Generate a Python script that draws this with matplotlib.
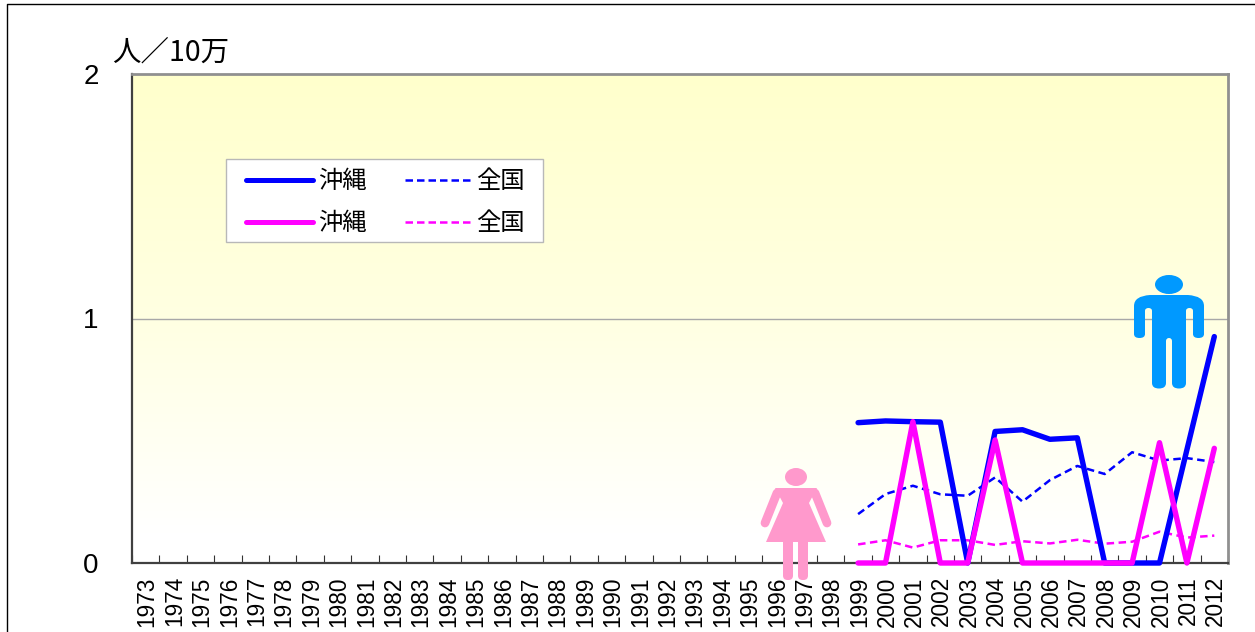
"""Rate per 100,000 chart: Okinawa vs national, men and women."""
import matplotlib
matplotlib.use("Agg")
import matplotlib.pyplot as plt
import numpy as np
from matplotlib.colors import LinearSegmentedColormap
from matplotlib.patches import Ellipse, FancyBboxPatch, PathPatch, Polygon, Rectangle
from matplotlib.path import Path
from matplotlib.transforms import Affine2D, ScaledTranslation

plt.rcParams["font.family"] = ["Noto Sans CJK JP", "DejaVu Sans"]

W, H = 1255, 632

years = [str(y) for y in range(1973, 2013)]
recent_years = [str(y) for y in range(1999, 2013)]

okinawa_men = [0.574, 0.581, 0.578, 0.576, 0, 0.538, 0.545, 0.506, 0.512, 0, 0, 0, 0.463, 0.926]
japan_men = [0.200, 0.282, 0.316, 0.281, 0.275, 0.350, 0.251, 0.339, 0.397, 0.364, 0.453, 0.419, 0.429, 0.413]
okinawa_women = [0, 0, 0.578, 0, 0, 0.503, 0, 0, 0, 0, 0, 0.492, 0, 0.469]
japan_women = [0.076, 0.093, 0.063, 0.093, 0.093, 0.074, 0.089, 0.080, 0.095, 0.079, 0.087, 0.128, 0.104, 0.112]

yticks = [0, 1, 2]
unit_label = "人／10万"
series_labels = ["沖縄", "全国"]

BLUE = "#0000ff"
MAGENTA = "#ff00ff"
MAN = "#0099ff"
WOMAN = "#ff99cc"

fig = plt.figure(figsize=(W / 100, H / 100), dpi=100)
ax = fig.add_axes([132 / W, 1 - 563 / H, (1228 - 132) / W, (563 - 74) / H])
ax.set_xlim(-0.5, 39.5)
ax.set_ylim(0, 2)

# page frame, cut off by the picture on the bottom and right
fig.add_artist(plt.Line2D([6.7 / W, 6.7 / W, 1], [0, 1 - 3.9 / H, 1 - 3.9 / H], color="black", lw=1))

# yellow to white gradient background
cmap = LinearSegmentedColormap.from_list("bg", [(0, "#ffffff"), (0.06, "#ffffff"), (0.5, "#ffffe2"), (1, "#ffffcc")])
grad = np.linspace(0, 1, 256).reshape(-1, 1)
ax.imshow(grad, cmap=cmap, origin="lower", aspect="auto", extent=(-0.5, 39.5, 0, 2), zorder=0)

ax.axhline(1, color="#a8a8a8", lw=1, zorder=1)

x_recent = [years.index(y) for y in recent_years]
dash_style = dict(lw=1.8, ls=(0, (3, 1.8)), zorder=3, clip_on=False)
solid_style = dict(lw=3.9, clip_on=False, solid_joinstyle="round", solid_capstyle="round")
ax.plot(x_recent, japan_men, color=BLUE, **dash_style)
ax.plot(x_recent, japan_women, color=MAGENTA, **dash_style)
ax.plot(x_recent, okinawa_men, color=BLUE, zorder=4, **solid_style)
ax.plot(x_recent, okinawa_women, color=MAGENTA, zorder=5, **solid_style)

ax.set_yticks(yticks)
ax.set_yticklabels([str(t) for t in yticks], fontsize=20, family="Liberation Sans")
ax.tick_params(axis="y", length=0, pad=24)
ax.set_xticks(np.arange(-0.5, 40, 1), minor=True)
ax.set_xticks(range(len(years)))
ax.set_xticklabels(years, rotation=90, fontsize=16.3, family="Liberation Sans")
ax.tick_params(axis="x", which="major", length=0, pad=9.5)
ax.tick_params(axis="x", which="minor", length=5.5, direction="in", width=0.8, color="#333333")
nudge = ScaledTranslation(1.5 / 100, 0, fig.dpi_scale_trans)
for label in ax.get_xticklabels():
    label.set_transform(label.get_transform() + nudge)
for side in ["top", "right"]:
    ax.spines[side].set_color("#909090")
    ax.spines[side].set_linewidth(2)
for side in ["left", "bottom"]:
    ax.spines[side].set_color("#404040")
    ax.spines[side].set_linewidth(1.6)

fig.text(112 / W, 1 - 61 / H, unit_label, fontsize=20.5, va="baseline", ha="left")

# everything below is placed in reference pixels
px = Affine2D().scale(1, -1).translate(0, H)

# legend box
fig.add_artist(Rectangle((226, 159), 317, 83, transform=px, fc="white", ec="#b8b8b8", lw=1, zorder=6))
legend_rows = [(180, BLUE), (221.5, MAGENTA)]
for y, colour in legend_rows:
    fig.add_artist(plt.Line2D([246, 313], [y, y], transform=px, color=colour, lw=3.6, zorder=7, solid_capstyle="round"))
    fig.add_artist(plt.Line2D([405, 471], [y, y], transform=px, color=colour, lw=1.8, ls=(0, (3, 1.6)), zorder=7))
    fig.text(318 / W, 1 - (y + 1) / H, series_labels[0], fontsize=17.5, va="center", ha="left", zorder=7)
    fig.text(476 / W, 1 - (y + 1) / H, series_labels[1], fontsize=17.5, va="center", ha="left", zorder=7)


def rounded(x, y, w, h, r, colour):
    fig.add_artist(FancyBboxPatch((x + r, y + r), w - 2 * r, h - 2 * r, boxstyle=f"round,pad={r},rounding_size={r}",
                                  transform=px, fc=colour, ec="none", zorder=8))


# man icon: shoulders and arms as one outline, left half mirrored about x=1169
half = [
    (Path.MOVETO, 1169, 295), (Path.LINETO, 1150, 295), (Path.CURVE3, 1134, 296), (Path.CURVE3, 1134, 306),
    (Path.LINETO, 1134, 334), (Path.CURVE3, 1134, 338), (Path.CURVE3, 1139.5, 338),
    (Path.CURVE3, 1145, 338), (Path.CURVE3, 1145, 334), (Path.LINETO, 1145, 311),
    (Path.CURVE3, 1145, 308), (Path.CURVE3, 1148.5, 308), (Path.CURVE3, 1152, 308), (Path.CURVE3, 1152, 311),
    (Path.LINETO, 1152, 383), (Path.CURVE3, 1152, 388.5), (Path.CURVE3, 1159, 388.5),
    (Path.CURVE3, 1166, 388.5), (Path.CURVE3, 1166, 383), (Path.LINETO, 1166, 341),
    (Path.CURVE3, 1166, 338), (Path.CURVE3, 1169, 338),
]
for sign in [1, -1]:
    codes = [c for c, _, _ in half] + [Path.CLOSEPOLY]
    verts = [(1169 + sign * (xp - 1169), yp) for _, xp, yp in half] + [(1169, 295)]
    fig.add_artist(PathPatch(Path(verts, codes), transform=px, fc=MAN, ec="none", zorder=8))
fig.add_artist(Ellipse((1169, 284.5), 28, 19, transform=px, fc=MAN, ec="none", zorder=8))

# woman icon
fig.add_artist(Ellipse((796, 477), 22, 18, transform=px, fc=WOMAN, ec="none", zorder=8))
fig.add_artist(Polygon([(775, 488), (817, 488), (809, 503), (826, 542), (766, 542), (783, 503)],
                       transform=px, fc=WOMAN, ec="none", zorder=8))
for xs in [[777, 765], [815, 827]]:
    fig.add_artist(plt.Line2D(xs, [493, 523], transform=px, color=WOMAN, lw=6.3, solid_capstyle="round", zorder=8))
rounded(783, 535, 10, 45, 4.5, WOMAN)
rounded(798, 535, 10, 45, 4.5, WOMAN)

fig.savefig("out.png", dpi=100)
